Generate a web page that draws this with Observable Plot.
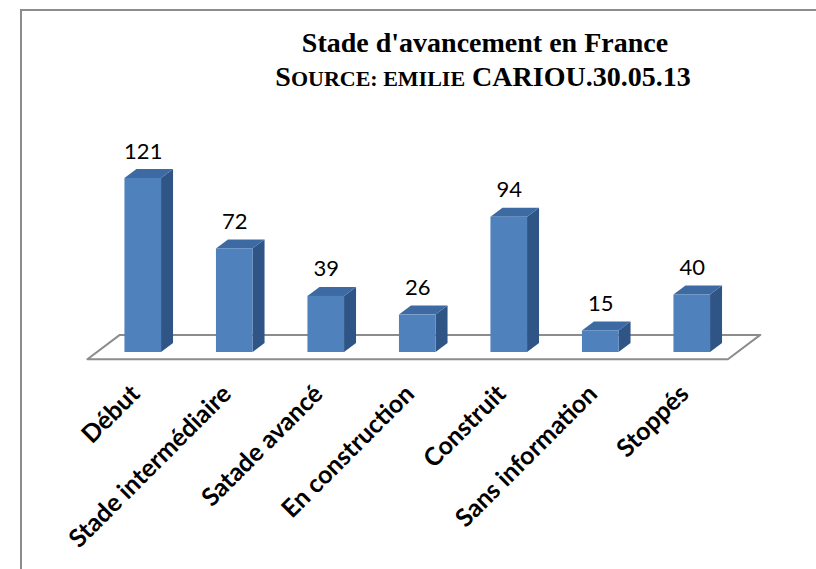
<!DOCTYPE html>
<html>
<head>
<meta charset="utf-8">
<script src="https://cdn.jsdelivr.net/npm/d3@7"></script>
<script src="https://cdn.jsdelivr.net/npm/@observablehq/plot@0.6"></script>
<style>
  html, body { margin: 0; padding: 0; background: #fff; overflow: hidden; }
  #wrap { position: relative; width: 816px; height: 569px; }
  #frame { position: absolute; left: 20px; top: 9px; width: 820px; height: 600px; border: 2px solid #8c8c8c; box-sizing: border-box; }
  #title { position: absolute; left: 0; width: 970px; top: 0; text-align: center; font-family: "Liberation Serif", "Times New Roman", serif; font-weight: bold; color: #000; }
  #t1 { position: absolute; left: 0; width: 970px; top: 27px; font-size: 28px; line-height: 32px; }
  #t2 { position: absolute; left: 0; width: 966px; top: 61px; font-size: 28px; line-height: 32px; }
  .sc { font-size: 22px; }
  #chart { position: absolute; left: 0; top: 0; }
</style>
</head>
<body>
<div id="wrap">
  <div id="frame"></div>
  <div id="chart"></div>
  <div id="title">
    <div id="t1">Stade d'avancement en France</div>
    <div id="t2">S<span class="sc">OURCE: EMILIE</span> CARIOU.30.05.13</div>
  </div>
</div>
<script>
const categories = ["Début", "Stade intermédiaire", "Satade avancé", "En construction", "Construit", "Sans information", "Stoppés"];
const values = [121, 72, 39, 26, 94, 15, 40];

const data = categories.map((c, i) => ({cat: c, i, v: values[i]}));

// oblique 3D depth in data units
const hw = 0.2;      // half bar width (x units)
const ddx = 0.131;   // depth shift in x units
const ddy = 6.26;    // depth shift in y units
const floorFront = -0.8, floorBack = 1.9;

const sidePts = data.flatMap(d => [
  {i: d.i, x: d.i + hw, y1: 0, y2: d.v},
  {i: d.i, x: d.i + hw + ddx, y1: ddy, y2: d.v + ddy}
]);
const topPts = data.flatMap(d => [
  {i: d.i, y: d.v, x1: d.i - hw, x2: d.i + hw},
  {i: d.i, y: d.v + ddy, x1: d.i - hw + ddx, x2: d.i + hw + ddx}
]);
const n = categories.length;
const floorPts = [
  {y: floorFront * ddy, x1: -0.5 + floorFront * ddx, x2: n - 0.5 + floorFront * ddx},
  {y: floorBack * ddy, x1: -0.5 + floorBack * ddx, x2: n - 0.5 + floorBack * ddx}
];

const chart = Plot.plot({
  width: 816,
  height: 569,
  x: {type: "linear", domain: [-0.5, n - 0.5], range: [97, 737.5], axis: null},
  y: {domain: [0, 121], range: [352, 178], axis: null},
  marks: [
    Plot.areaX(floorPts, {y: "y", x1: "x1", x2: "x2", fill: "#fff", stroke: "#8c8c8c", strokeWidth: 2}),
    Plot.areaY(sidePts, {x: "x", y1: "y1", y2: "y2", z: "i", fill: "#2f5486"}),
    Plot.areaX(topPts, {y: "y", x1: "x1", x2: "x2", z: "i", fill: "#3e6aa3"}),
    Plot.rect(data, {x1: d => d.i - hw, x2: d => d.i + hw, y1: 0, y2: "v", fill: "#4f81bd"}),
    Plot.text(data, {x: "i", y: "v", text: d => String(d.v), dy: -20, lineAnchor: "bottom", fontSize: 22, fontFamily: "Lato, 'Open Sans', sans-serif", fill: "#000"}),
    Plot.text(data, {x: "i", y: 0, text: "cat", rotate: -45, textAnchor: "end", lineAnchor: "bottom", dx: -2, dy: 43, fontSize: 25, fontWeight: "bold", fontFamily: "Lato, 'Open Sans', sans-serif", fill: "#000"})
  ]
});
chart.style.background = "transparent";
document.getElementById("chart").appendChild(chart);
</script>
</body>
</html>
